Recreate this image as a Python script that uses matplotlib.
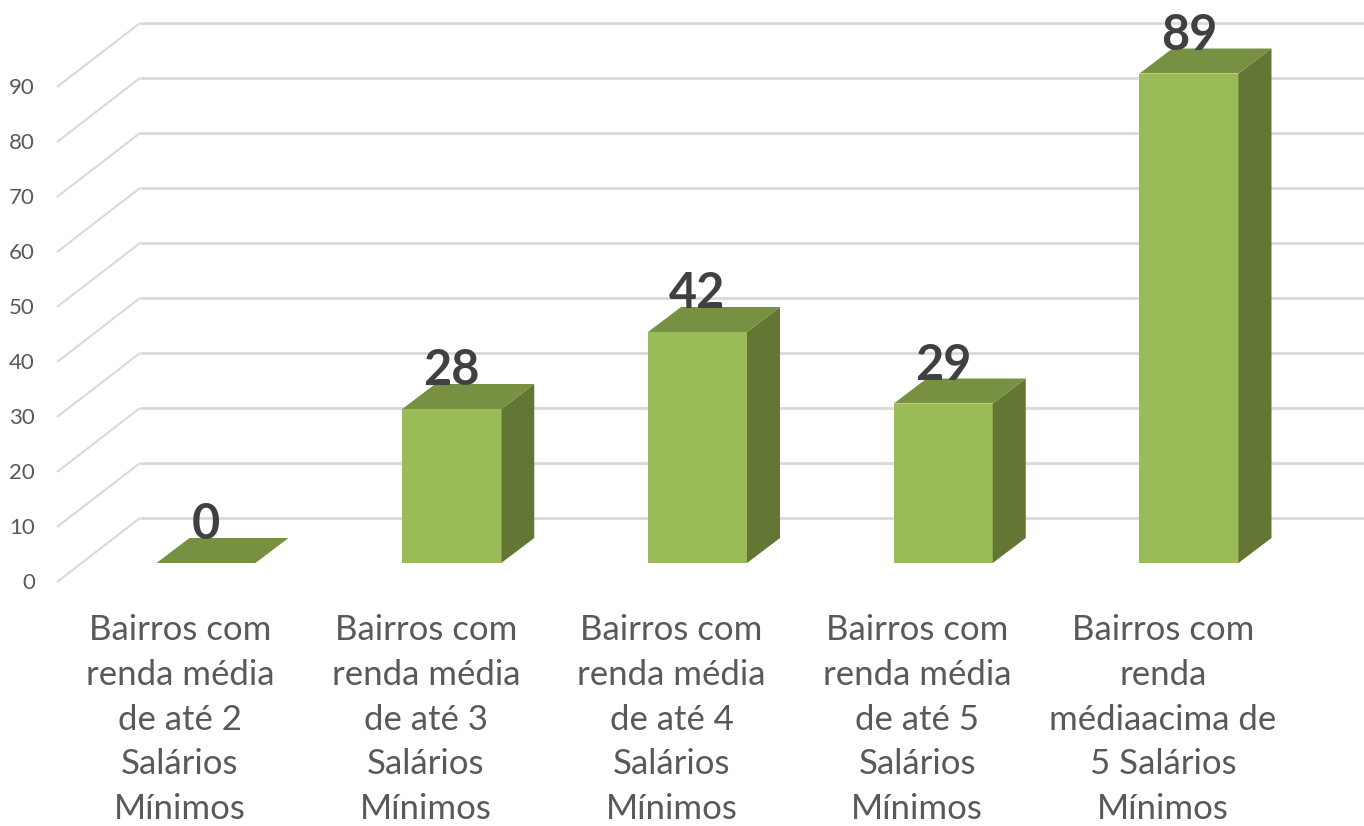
import matplotlib
matplotlib.use("Agg")
import matplotlib.pyplot as plt
from matplotlib.patches import Polygon

categories = [
    "Bairros com\nrenda média\nde até 2\nSalários\nMínimos",
    "Bairros com\nrenda média\nde até 3\nSalários\nMínimos",
    "Bairros com\nrenda média\nde até 4\nSalários\nMínimos",
    "Bairros com\nrenda média\nde até 5\nSalários\nMínimos",
    "Bairros com\nrenda\nmédiaacima de\n5 Salários\nMínimos",
]
values = [0, 28, 42, 29, 89]
y_ticks = list(range(0, 100, 10))

plt.rcParams["font.family"] = ["Lato", "DejaVu Sans"]
W, H = 1364, 826
fig = plt.figure(figsize=(W / 100, H / 100), dpi=100)
ax = fig.add_axes([0, 0, 1, 1])
ax.axis("off")

# scale: data to pixels
px_per_cat = 245.75
px_per_val = 5.5
x0_px, y0_px = 206, 563
ax.set_xlim(-x0_px / px_per_cat, (W - x0_px) / px_per_cat)
ax.set_ylim((y0_px - H) / px_per_val, y0_px / px_per_val)

def dx(p):
    return p / px_per_cat

def dy(p):
    return p / px_per_val

half = 49.5 / px_per_cat
depth_x, depth_y = dx(33), dy(25)

# wall geometry relative to the bar-front plane
front_x, front_y = dx(57 - 206), dy(563 - 582)
back_x, back_y = dx(140 - 206), dy(563 - 518)
right_x = dx(1364 - 206)
grid_color = "#d9d9d9"

for v in y_ticks:
    ax.plot([front_x, back_x], [v + front_y, v + back_y], color=grid_color, lw=1.5, zorder=1, solid_capstyle="butt")
    ax.plot([back_x, right_x], [v + back_y, v + back_y], color=grid_color, lw=2, zorder=1, solid_capstyle="butt")
    ax.text(dx(35 - 206), v + dy(563 - 583), str(v), ha="right", va="center", fontsize=16, color="#595959")

front_c, top_c, side_c = "#9bbb59", "#779042", "#647634"
for i, v in enumerate(values):
    l, r = i - half, i + half
    ax.add_patch(Polygon([(l, 0), (r, 0), (r, v), (l, v)], fc=front_c, ec="none", zorder=3))
    ax.add_patch(Polygon([(r, 0), (r + depth_x, depth_y), (r + depth_x, v + depth_y), (r, v)], fc=side_c, ec="none", zorder=3))
    ax.add_patch(Polygon([(l, v), (r, v), (r + depth_x, v + depth_y), (l + depth_x, v + depth_y)], fc=top_c, ec="none", zorder=3))
    ax.text(i, v + dy(38.5), str(v), ha="center", va="center", fontsize=35, fontweight="bold", color="#404040", zorder=4)
    ax.text(i - dx(26), dy(563 - 825), categories[i], ha="center", va="bottom", fontsize=25,
            color="#595959", linespacing=1.488, zorder=4, multialignment="center")

fig.savefig("out.png", dpi=100, facecolor="white")
